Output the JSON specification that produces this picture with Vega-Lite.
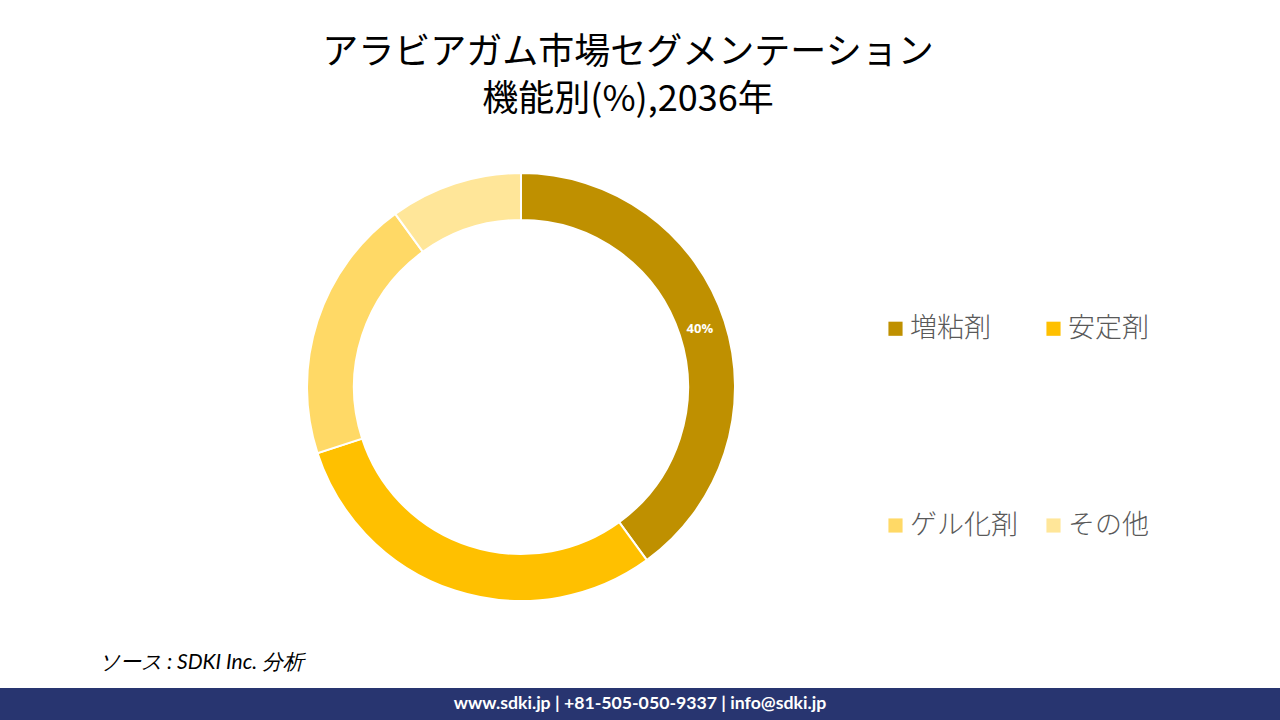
{
  "$schema": "https://vega.github.io/schema/vega-lite/v6.json",
  "width": 428,
  "height": 428,
  "autosize": {"type": "none"},
  "padding": {"left": 307, "top": 173, "right": 545, "bottom": 119},
  "background": "white",
  "config": {"view": {"stroke": null}},
  "title": {
    "text": ["アラビアガム市場セグメンテーション", "機能別(%),2036年"],
    "font": "Noto Sans CJK JP",
    "fontSize": 36,
    "fontWeight": "normal",
    "color": "#000000",
    "lineHeight": 47,
    "anchor": "middle",
    "frame": "group",
    "dx": 107,
    "offset": 50
  },
  "layer": [
    {
      "data": {
        "values": [
          {"segment": "増粘剤", "share": 40, "order": 1, "label": "40%"},
          {"segment": "安定剤", "share": 30, "order": 2, "label": ""},
          {"segment": "ゲル化剤", "share": 20, "order": 3, "label": ""},
          {"segment": "その他", "share": 10, "order": 4, "label": ""}
        ]
      },
      "layer": [
        {
          "mark": {"type": "arc", "outerRadius": 214, "innerRadius": 167, "stroke": "white", "strokeWidth": 2},
          "encoding": {
            "theta": {"field": "share", "type": "quantitative", "stack": true},
            "order": {"field": "order", "type": "quantitative"},
            "color": {
              "field": "segment",
              "type": "nominal",
              "scale": {
                "domain": ["増粘剤", "安定剤", "ゲル化剤", "その他"],
                "range": ["#BF9000", "#FFC000", "#FFD966", "#FFE699"]
              },
              "legend": {
                "title": null,
                "orient": "none",
                "legendX": 575,
                "legendY": 142,
                "direction": "horizontal",
                "columns": 2,
                "columnPadding": 22,
                "rowPadding": 169,
                "symbolType": "square",
                "symbolSize": 200,
                "symbolStrokeWidth": 0,
                "labelFont": "Noto Sans CJK JP",
                "labelFontSize": 27,
                "labelFontWeight": 300,
                "labelColor": "#595959",
                "labelOffset": 1,
                "labelLimit": 300
              }
            }
          }
        },
        {
          "mark": {"type": "text", "radius": 188, "color": "white", "font": "Open Sans", "fontSize": 13, "fontWeight": "bold"},
          "encoding": {
            "theta": {"field": "share", "type": "quantitative", "stack": true},
            "order": {"field": "order", "type": "quantitative"},
            "text": {"field": "label", "type": "nominal"}
          }
        }
      ]
    },
    {
      "data": {"values": [{"note": "ソース : SDKI Inc. 分析"}]},
      "mark": {"type": "text", "align": "left", "baseline": "middle", "font": "Lato", "fontStyle": "italic", "fontSize": 21, "color": "#000000"},
      "encoding": {
        "x": {"value": -208},
        "y": {"value": 490},
        "text": {"field": "note", "type": "nominal"}
      }
    },
    {
      "data": {"values": [{"band": "footer"}]},
      "mark": {"type": "rect", "color": "#283570"},
      "encoding": {
        "x": {"value": -307},
        "x2": {"value": 973},
        "y": {"value": 515},
        "y2": {"value": 547}
      }
    },
    {
      "data": {"values": [{"contact": "www.sdki.jp | +81-505-050-9337 | info@sdki.jp"}]},
      "mark": {"type": "text", "align": "center", "baseline": "middle", "font": "Lato", "fontWeight": "bold", "fontSize": 17.7, "color": "white"},
      "encoding": {
        "x": {"value": 333},
        "y": {"value": 531},
        "text": {"field": "contact", "type": "nominal"}
      }
    }
  ]
}
